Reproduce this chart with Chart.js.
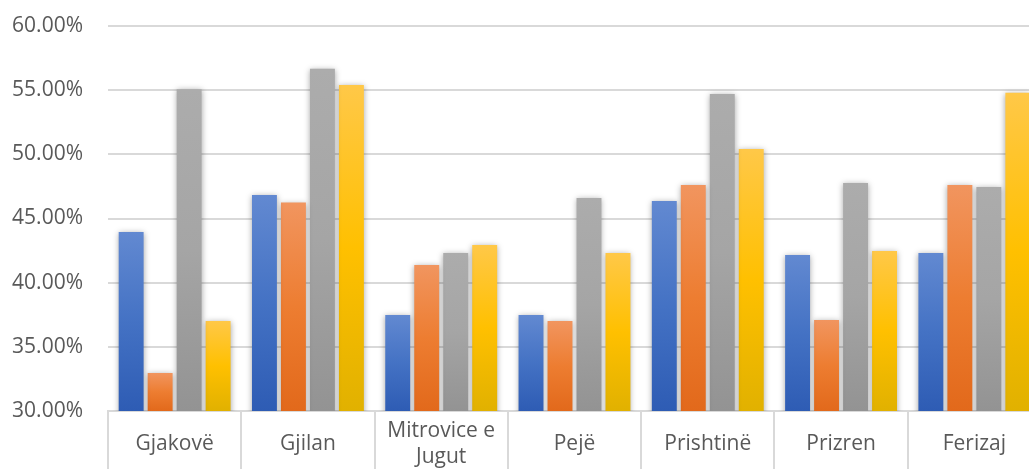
<!DOCTYPE html>
<html>
<head>
<meta charset="utf-8">
<script src="https://cdn.jsdelivr.net/npm/chart.js@4.4.0/dist/chart.umd.min.js"></script>
<style>
  html, body { margin: 0; padding: 0; background: #fff; overflow: hidden; }
  #wrap { width: 1044px; height: 469px; }
</style>
</head>
<body>
<div id="wrap"><canvas id="chart" width="1044" height="469"></canvas></div>
<script>
// data
const categories = ["Gjakovë", "Gjilan", ["Mitrovice e", "Jugut"], "Pejë", "Prishtinë", "Prizren", "Ferizaj"];
const seriesNames = ["Seria 1", "Seria 2", "Seria 3", "Seria 4"];
const series1 = [43.95, 46.84, 37.48, 37.48, 46.37, 42.16, 42.31];
const series2 = [32.96, 46.24, 41.38, 37.01, 47.61, 37.09, 47.61];
const series3 = [55.07, 56.66, 42.31, 46.60, 54.71, 47.77, 47.46];
const series4 = [37.01, 55.41, 42.94, 42.31, 50.42, 42.47, 54.79];
const yMin = 30;
const yMax = 60;
const yStep = 5;

// top / middle / bottom of each bar's gradient
const gradients = [
  ["#6289d1", "#4472c4", "#2e5cb4"],
  ["#f1955f", "#ed7d31", "#e2691b"],
  ["#acacac", "#a5a5a5", "#939393"],
  ["#ffc848", "#ffc000", "#e1b100"],
];

function barGradient(stops) {
  return (context) => {
    const chart = context.chart;
    const { ctx, chartArea, scales } = chart;
    if (!chartArea || context.raw === undefined) return stops[1];
    const top = scales.y.getPixelForValue(context.raw);
    const bottom = scales.y.getPixelForValue(yMin);
    const g = ctx.createLinearGradient(0, top, 0, bottom);
    g.addColorStop(0, stops[0]);
    g.addColorStop(0.5, stops[1]);
    g.addColorStop(1, stops[2]);
    return g;
  };
}

const barShadow = {
  id: "barShadow",
  beforeDatasetsDraw(chart) {
    const c = chart.ctx;
    c.save();
    c.shadowColor = "rgba(0, 0, 0, 0.35)";
    c.shadowBlur = 6;
    c.shadowOffsetX = 0;
    c.shadowOffsetY = 1;
  },
  afterDatasetsDraw(chart) {
    chart.ctx.restore();
  },
};

const allSeries = [series1, series2, series3, series4];

new Chart(document.getElementById("chart"), {
  type: "bar",
  data: {
    labels: categories,
    datasets: allSeries.map((values, i) => ({
      label: seriesNames[i],
      data: values,
      backgroundColor: barGradient(gradients[i]),
      borderWidth: 0,
      barPercentage: 0.86,
      categoryPercentage: 0.87,
    })),
  },
  options: {
    responsive: false,
    animation: false,
    layout: { padding: { top: 26, right: 3, left: 0, bottom: 0 } },
    plugins: {
      legend: { display: false },
      tooltip: { enabled: false },
    },
    scales: {
      y: {
        min: yMin,
        max: yMax,
        ticks: {
          stepSize: yStep,
          callback: (v) => v.toFixed(2) + "%",
          color: "#595959",
          font: { family: "Open Sans", size: 21 },
          padding: 25,
        },
        grid: { color: "#d9d9d9", lineWidth: 2, drawTicks: false },
        border: { display: false },
        afterFit(scale) {
          scale.width = 108;
          scale.paddingTop = 0;
          scale.paddingBottom = 0;
        },
      },
      x: {
        ticks: {
          color: "#595959",
          font: { family: "Open Sans", size: 21, lineHeight: 26 / 21 },
          padding: -38,
          crossAlign: "center",
          maxRotation: 0,
          autoSkip: false,
        },
        grid: {
          drawOnChartArea: false,
          drawTicks: true,
          tickLength: 58,
          color: "#d9d9d9",
          lineWidth: 2,
          offset: true,
        },
        border: { color: "#d9d9d9", width: 2 },
        afterFit(scale) { scale.height = 58; },
      },
    },
  },
  plugins: [barShadow],
});
</script>
</body>
</html>
